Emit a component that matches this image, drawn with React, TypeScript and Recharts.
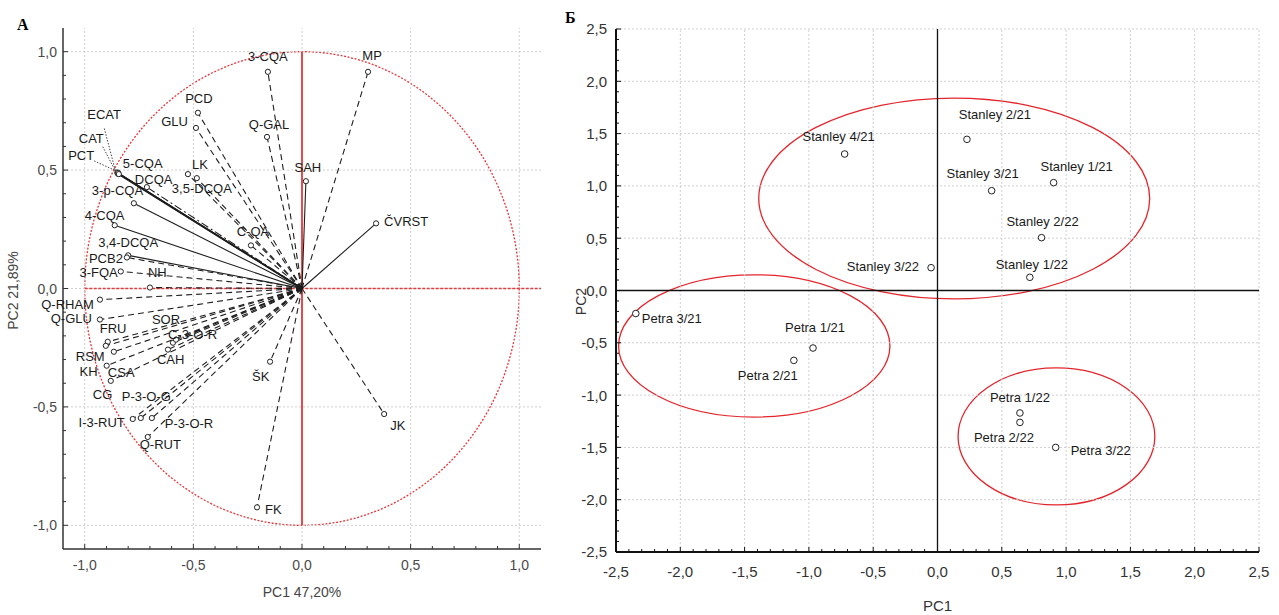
import React from 'react';
import { ScatterChart, Scatter, XAxis, YAxis, ReferenceLine, ReferenceArea } from 'recharts';

const FONT = '"Liberation Sans", Arial, Helvetica, sans-serif';

// Panel A: PCA loadings (PC1 47,20%, PC2 21,89%)
const loadingNames = ['3-CQA', 'MP', 'PCD', 'GLU', 'Q-GAL', 'SAH', 'ČVRST', 'ECAT', 'CAT', 'PCT', '5-CQA', 'LK', '3,5-DCQA', 'DCQA', '3-p-CQA', '4-CQA', 'C-QA', '3,4-DCQA', 'PCB2', '3-FQA', 'NH', 'Q-RHAM', 'Q-GLU', 'FRU', 'RSM', 'CSA', 'KH', 'CG', 'SOR', 'C-3-O-R', 'CAH', 'ŠK', 'I-3-RUT', 'P-3-O-G', 'P-3-O-R', 'Q-RUT', 'FK', 'JK'];
const loadingPC1 = [-0.157, 0.304, -0.479, -0.488, -0.161, 0.018, 0.341, -0.85, -0.848, -0.846, -0.843, -0.525, -0.484, -0.714, -0.774, -0.862, -0.235, -0.8, -0.806, -0.834, -0.7, -0.93, -0.93, -0.894, -0.903, -0.866, -0.899, -0.88, -0.594, -0.58, -0.617, -0.147, -0.779, -0.742, -0.691, -0.71, -0.207, 0.378];
const loadingPC2 = [0.915, 0.915, 0.742, 0.678, 0.64, 0.453, 0.275, 0.49, 0.485, 0.488, 0.483, 0.483, 0.466, 0.428, 0.36, 0.267, 0.182, 0.14, 0.131, 0.072, 0.004, -0.047, -0.131, -0.225, -0.242, -0.267, -0.326, -0.39, -0.229, -0.216, -0.258, -0.309, -0.551, -0.547, -0.547, -0.627, -0.924, -0.53];
const solidVectors = ['SAH', 'ČVRST', '5-CQA', 'ECAT', 'CAT', 'PCT', '3-p-CQA', '4-CQA', '3,4-DCQA'];
const dashDotVectors = ['DCQA'];

// Panel Б: PCA scores
const sampleNames = ['Stanley 1/21', 'Stanley 2/21', 'Stanley 3/21', 'Stanley 4/21', 'Stanley 1/22', 'Stanley 2/22', 'Stanley 3/22', 'Petra 1/21', 'Petra 2/21', 'Petra 3/21', 'Petra 1/22', 'Petra 2/22', 'Petra 3/22'];
const samplePC1 = [0.903, 0.229, 0.421, -0.722, 0.718, 0.809, -0.05, -0.968, -1.117, -2.346, 0.641, 0.641, 0.919];
const samplePC2 = [1.031, 1.445, 0.954, 1.305, 0.126, 0.505, 0.218, -0.55, -0.668, -0.22, -1.171, -1.261, -1.5];

// group ellipses (bounding boxes in PC units)
const groupNames = ['Stanley', 'Petra /21', 'Petra /22'];
const groupPC1Min = [-1.39, -2.48, 0.16];
const groupPC1Max = [1.65, -0.37, 1.69];
const groupPC2Min = [-0.08, -1.21, -2.05];
const groupPC2Max = [1.84, 0.15, -0.74];

const leftMajorTicks = [-1, -0.5, 0, 0.5, 1];
const rightMajorTicks = [-2.5, -2, -1.5, -1, -0.5, 0, 0.5, 1, 1.5, 2, 2.5];

// label placement: [dx, dy, anchor, leader-from dx, leader-from dy]
type LabelPos = [number, number, 'start' | 'middle' | 'end', number?, number?];
const loadingLabelPos: Record<string, LabelPos> = {
  '3-CQA': [0, -11, 'middle'],
  'MP': [4, -12, 'middle'],
  'PCD': [1, -10, 'middle'],
  'GLU': [-8, -2, 'end'],
  'Q-GAL': [2, -8, 'middle'],
  'SAH': [2, -9, 'middle'],
  'ČVRST': [8, 3, 'start'],
  'ECAT': [-30, -53, 'start', -13, -44],
  'CAT': [-39, -31, 'start', -15, -27],
  'PCT': [-50, -13, 'start', -24, -12],
  '5-CQA': [4, -6, 'start'],
  'LK': [4, -5, 'start'],
  '3,5-DCQA': [5, 15, 'middle'],
  'DCQA': [-12, -3, 'start'],
  '3-p-CQA': [-42, -8, 'start'],
  '4-CQA': [-30, -5, 'start'],
  'C-QA': [2, -9, 'middle'],
  '3,4-DCQA': [-30, -8, 'start'],
  'PCB2': [-4, 6, 'end'],
  '3-FQA': [-3, 6, 'end'],
  'NH': [-2, -11, 'start'],
  'Q-RHAM': [-6, 9, 'end'],
  'Q-GLU': [-8, 3, 'end'],
  'FRU': [-8, -9, 'start'],
  'RSM': [-30, 15, 'start'],
  'CSA': [-6, 25, 'start'],
  'KH': [-9, 10, 'end'],
  'CG': [-18, 18, 'start'],
  'SOR': [-21, -19, 'start'],
  'C-3-O-R': [-8, -1, 'start'],
  'CAH': [-11, 14, 'start'],
  'ŠK': [-18, 19, 'start'],
  'I-3-RUT': [-8, 8, 'end'],
  'P-3-O-G': [-19, -17, 'start'],
  'P-3-O-R': [13, 10, 'start'],
  'Q-RUT': [-8, 12, 'start'],
  'FK': [8, 7, 'start'],
  'JK': [6, 16, 'start'],
};
const sampleLabelPos: Record<string, LabelPos> = {
  'Stanley 1/21': [23, -12, 'middle'],
  'Stanley 2/21': [28, -20, 'middle'],
  'Stanley 3/21': [-9, -13, 'middle'],
  'Stanley 4/21': [-6, -13, 'middle'],
  'Stanley 1/22': [2, -8, 'middle'],
  'Stanley 2/22': [1, -12, 'middle'],
  'Stanley 3/22': [-12, 3, 'end'],
  'Petra 1/21': [2, -16, 'middle'],
  'Petra 2/21': [-26, 20, 'middle'],
  'Petra 3/21': [6, 9, 'start'],
  'Petra 1/22': [0, -11, 'middle'],
  'Petra 2/22': [-16, 20, 'middle'],
  'Petra 3/22': [15, 8, 'start'],
};

const fmt = (v: number) => (Math.round(v * 10) / 10).toFixed(1).replace('.', ',');
const isMajor = (v: number) => Math.abs(v * 2 - Math.round(v * 2)) < 1e-6;
const tenths = (from: number, to: number) => {
  const out: number[] = [];
  for (let i = Math.round(from * 10); i <= Math.round(to * 10); i++) out.push(i / 10);
  return out;
};
const leftMinorTicks = tenths(-1, 1);
const rightMinorTicks = tenths(-2.5, 2.5);

type Side = 'bottom' | 'left' | 'top' | 'right';
interface TickOpts {
  side: Side;
  font: number;
  gap: number;
  color: string;
  major: number;
  minor: number;
  stroke: string;
}

// inward tick marks, labels only on the 0,5 steps
const axisTick = (o: TickOpts) => (props: any) => {
  const { x, y, payload } = props;
  const v = payload.value;
  const big = isMajor(v);
  const len = big ? o.major : o.minor;
  let line = null;
  let label = null;
  if (o.side === 'bottom') {
    line = <line x1={x} x2={x} y1={y} y2={y - len} stroke={o.stroke} />;
    if (big) label = <text x={x} y={y + o.gap} textAnchor="middle" fontSize={o.font} fill={o.color}>{fmt(v)}</text>;
  } else if (o.side === 'top') {
    line = <line x1={x} x2={x} y1={y} y2={y + len} stroke={o.stroke} />;
  } else if (o.side === 'left') {
    line = <line x1={x} x2={x + len} y1={y} y2={y} stroke={o.stroke} />;
    if (big) label = <text x={x - o.gap} y={y + o.font * 0.36} textAnchor="end" fontSize={o.font} fill={o.color}>{fmt(v)}</text>;
  } else {
    line = <line x1={x} x2={x - len} y1={y} y2={y} stroke={o.stroke} />;
  }
  return <g>{line}{label}</g>;
};

const ellipseShape = (stroke: string, width: number, dash?: string) => (p: any) => (
  <ellipse
    cx={p.x + p.width / 2}
    cy={p.y + p.height / 2}
    rx={Math.abs(p.width) / 2}
    ry={Math.abs(p.height) / 2}
    fill="none"
    stroke={stroke}
    strokeWidth={width}
    strokeDasharray={dash}
  />
);

const pointShape = (table: Record<string, LabelPos>, r: number, font: number, color: string) => (p: any) => {
  const { cx, cy } = p;
  const name = p.payload?.name ?? p.name;
  const pos = table[name] || [6, 4, 'start'];
  const [dx, dy, anchor, lx, ly] = pos;
  return (
    <g>
      {lx !== undefined && (
        <line x1={cx + (lx as number)} y1={cy + (ly as number)} x2={cx - 2} y2={cy - 2} stroke="#444" strokeWidth={1} strokeDasharray="1.5 1.5" />
      )}
      <circle cx={cx} cy={cy} r={r} fill="#fff" stroke="#222" strokeWidth={1} />
      <text x={cx + dx} y={cy + dy} textAnchor={anchor} fontSize={font} fill={color} fontFamily={FONT}>{name}</text>
    </g>
  );
};

const LeftPanel = () => {
  const loadings = loadingNames.map((name, i) => ({ name, x: loadingPC1[i], y: loadingPC2[i] }));
  const tickCommon = { color: '#4a4a4a', font: 14, stroke: '#333', major: 5, minor: 3 };
  return (
    <ScatterChart width={548} height={615} margin={{ top: 28, right: 7, bottom: 0, left: 0 }}>
      <XAxis
        type="number"
        dataKey="x"
        domain={[-1.1, 1.1]}
        ticks={leftMinorTicks}
        interval={0}
        height={66}
        tickSize={0}
        tickMargin={0}
        tickLine={false}
        axisLine={{ stroke: '#333', strokeWidth: 1.5 }}
        tick={axisTick({ ...tickCommon, side: 'bottom', gap: 21 })}
        label={{
          content: (lp: any) => {
            const vb = lp.viewBox || { x: 63, y: 549, width: 478 };
            return (
              <text x={vb.x + vb.width / 2} y={vb.y + 48} textAnchor="middle" fontSize={14} fill="#444" fontFamily={FONT}>PC1 47,20%</text>
            );
          },
        }}
      />
      <XAxis
        xAxisId="top"
        orientation="top"
        type="number"
        domain={[-1.1, 1.1]}
        ticks={leftMinorTicks}
        interval={0}
        height={0}
        tickSize={0}
        tickMargin={0}
        tickLine={false}
        allowDataOverflow
        axisLine={{ stroke: '#333', strokeWidth: 1.5 }}
        tick={axisTick({ ...tickCommon, side: 'top', gap: 0 })}
      />
      <YAxis
        type="number"
        dataKey="y"
        domain={[-1.1, 1.1]}
        ticks={leftMinorTicks}
        interval={0}
        width={63}
        tickSize={0}
        tickMargin={0}
        tickLine={false}
        axisLine={{ stroke: '#333', strokeWidth: 1.5 }}
        tick={axisTick({ ...tickCommon, side: 'left', gap: 6 })}
        label={{
          content: (lp: any) => {
            const vb = lp.viewBox || { x: 0, y: 28, height: 521 };
            const cx = vb.x + 13;
            const cy = vb.y + vb.height / 2 + 2;
            return (
              <text x={cx} y={cy} transform={`rotate(-90 ${cx} ${cy})`} textAnchor="middle" dominantBaseline="central" fontSize={14} fill="#444" fontFamily={FONT}>PC2 21,89%</text>
            );
          },
        }}
      />
      <YAxis
        yAxisId="right"
        orientation="right"
        type="number"
        domain={[-1.1, 1.1]}
        ticks={leftMinorTicks}
        interval={0}
        width={0}
        tickSize={0}
        tickMargin={0}
        tickLine={false}
        allowDataOverflow
        axisLine={{ stroke: '#333', strokeWidth: 1.5 }}
        tick={axisTick({ ...tickCommon, side: 'right', gap: 0 })}
      />

      {leftMajorTicks.map((v) => (
        <ReferenceLine key={`gx${v}`} x={v} stroke="#cfcfcf" strokeDasharray="2 2" />
      ))}
      {leftMajorTicks.map((v) => (
        <ReferenceLine key={`gy${v}`} y={v} stroke="#cfcfcf" strokeDasharray="2 2" />
      ))}

      {/* correlation circle and red axes */}
      <ReferenceArea x1={-1} x2={1} y1={-1} y2={1} shape={ellipseShape('#e5383b', 1.3, '2 1.6')} />
      <ReferenceLine segment={[{ x: -1, y: 0 }, { x: 1.1, y: 0 }]} stroke="#e5383b" strokeWidth={1.3} strokeDasharray="3 1.5" />
      <ReferenceLine segment={[{ x: 0, y: -1 }, { x: 0, y: 1 }]} stroke="#e5383b" strokeWidth={1.8} />

      {/* loading vectors */}
      {loadings.map((d) => {
        const solid = solidVectors.includes(d.name);
        const dashDot = dashDotVectors.includes(d.name);
        return (
          <ReferenceLine
            key={`v-${d.name}`}
            segment={[{ x: 0, y: 0 }, { x: d.x, y: d.y }]}
            stroke="#1e1e1e"
            strokeWidth={d.name === '5-CQA' ? 1.8 : 1.1}
            strokeDasharray={solid ? undefined : dashDot ? '8 3 2 3' : '6 4'}
          />
        );
      })}

      <Scatter data={loadings} isAnimationActive={false} shape={pointShape(loadingLabelPos, 2.6, 13, '#1a1a1a')} />
    </ScatterChart>
  );
};

const RightPanel = () => {
  const samples = sampleNames.map((name, i) => ({ name, x: samplePC1[i], y: samplePC2[i] }));
  const tickCommon = { color: '#333', font: 15, stroke: '#111', major: 5, minor: 3 };
  return (
    <ScatterChart width={719} height={615} margin={{ top: 29, right: 20, bottom: 0, left: 0 }}>
      <XAxis
        type="number"
        dataKey="x"
        domain={[-2.5, 2.5]}
        ticks={rightMinorTicks}
        interval={0}
        height={63}
        tickSize={0}
        tickMargin={0}
        tickLine={false}
        axisLine={{ stroke: '#111', strokeWidth: 2 }}
        tick={axisTick({ ...tickCommon, side: 'bottom', gap: 25 })}
        label={{
          content: (lp: any) => {
            const vb = lp.viewBox || { x: 56, y: 552, width: 643 };
            return (
              <text x={vb.x + vb.width / 2} y={vb.y + 59} textAnchor="middle" fontSize={15} fill="#333" fontFamily={FONT}>PC1</text>
            );
          },
        }}
      />
      <XAxis
        xAxisId="top"
        orientation="top"
        type="number"
        domain={[-2.5, 2.5]}
        ticks={rightMinorTicks}
        interval={0}
        height={0}
        tickSize={0}
        tickMargin={0}
        tickLine={false}
        allowDataOverflow
        axisLine={{ stroke: '#111', strokeWidth: 2 }}
        tick={axisTick({ ...tickCommon, side: 'top', gap: 0 })}
      />
      <YAxis
        type="number"
        dataKey="y"
        domain={[-2.5, 2.5]}
        ticks={rightMinorTicks}
        interval={0}
        width={56}
        tickSize={0}
        tickMargin={0}
        tickLine={false}
        axisLine={{ stroke: '#111', strokeWidth: 2 }}
        tick={axisTick({ ...tickCommon, side: 'left', gap: 9 })}
        label={{
          content: (lp: any) => {
            const vb = lp.viewBox || { x: 0, y: 29, height: 523 };
            const cx = vb.x + 21;
            const cy = vb.y + vb.height / 2 + 11;
            return (
              <text x={cx} y={cy} transform={`rotate(-90 ${cx} ${cy})`} textAnchor="middle" dominantBaseline="central" fontSize={14} fill="#333" fontFamily={FONT}>PC2</text>
            );
          },
        }}
      />
      <YAxis
        yAxisId="right"
        orientation="right"
        type="number"
        domain={[-2.5, 2.5]}
        ticks={rightMinorTicks}
        interval={0}
        width={0}
        tickSize={0}
        tickMargin={0}
        tickLine={false}
        allowDataOverflow
        axisLine={{ stroke: '#111', strokeWidth: 2 }}
        tick={axisTick({ ...tickCommon, side: 'right', gap: 0 })}
      />

      {rightMajorTicks.map((v) => (
        <ReferenceLine key={`gx${v}`} x={v} stroke="#cfcfcf" strokeDasharray="2 2" />
      ))}
      {rightMajorTicks.map((v) => (
        <ReferenceLine key={`gy${v}`} y={v} stroke="#cfcfcf" strokeDasharray="2 2" />
      ))}
      <ReferenceLine x={0} stroke="#111" strokeWidth={1.3} />
      <ReferenceLine y={0} stroke="#111" strokeWidth={1.3} />

      {groupNames.map((g, i) => (
        <ReferenceArea
          key={g}
          x1={groupPC1Min[i]}
          x2={groupPC1Max[i]}
          y1={groupPC2Min[i]}
          y2={groupPC2Max[i]}
          shape={ellipseShape('#e3262d', 1.3)}
        />
      ))}

      <Scatter data={samples} isAnimationActive={false} shape={pointShape(sampleLabelPos, 3.3, 13, '#1a1a1a')} />
    </ScatterChart>
  );
};

export default function App() {
  return (
    <div style={{ position: 'absolute', left: 0, top: 0, width: 1279, height: 615, background: '#fff', fontFamily: FONT }}>
      <div style={{ position: 'absolute', left: 17, top: 17, font: 'bold 16px "Liberation Serif", "DejaVu Serif", serif', lineHeight: '16px' }}>A</div>
      <div style={{ position: 'absolute', left: 565, top: 10, font: 'bold 16px "Liberation Serif", "DejaVu Serif", serif', lineHeight: '16px' }}>Б</div>
      <div style={{ position: 'absolute', left: 0, top: 0 }}>
        <LeftPanel />
      </div>
      <div style={{ position: 'absolute', left: 560, top: 0 }}>
        <RightPanel />
      </div>
    </div>
  );
}
